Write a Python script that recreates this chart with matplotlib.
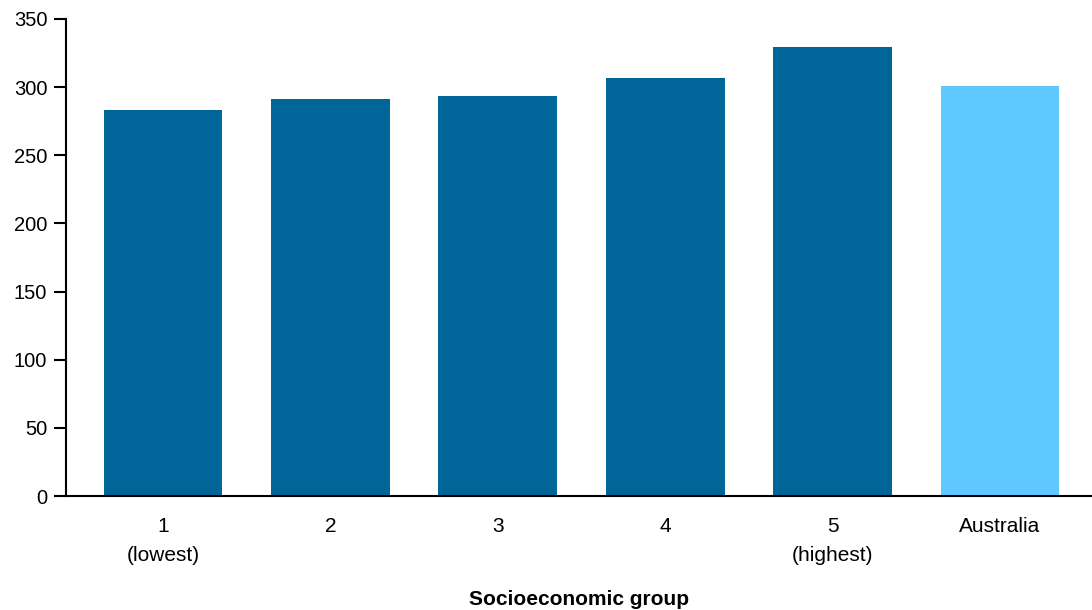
import numpy as np
import matplotlib.pyplot as plt

plt.rcParams['font.family'] = ['Liberation Sans', 'DejaVu Sans']

groups = ['1\n(lowest)', '2', '3', '4', '5\n(highest)', 'Australia']
values = [283.0, 291.6, 293.3, 307.0, 329.2, 300.6]
colours = ['#006699', '#006699', '#006699', '#006699', '#006699', '#5FC9FF']

fig = plt.figure(figsize=(10.92, 6.10), dpi=100)
ax = fig.add_axes([66 / 1092, (610 - 496) / 610, 1 - 66 / 1092, (496 - 19) / 610])

x = np.arange(len(groups))
ax.bar(x, values, width=0.71, color=colours)

ax.set_xlim(-0.58, 5.55)
ax.set_ylim(0, 350)
ax.set_yticks(np.arange(0, 351, 50))
ax.set_xticks(x)
ax.set_xticklabels(groups, linespacing=1.7)
ax.tick_params(axis='x', length=0, pad=15, labelsize=15)
ax.tick_params(axis='y', length=8.5, width=1.5, labelsize=14.5, pad=5)

for side in ['top', 'right']:
    ax.spines[side].set_visible(False)
for side in ['left', 'bottom']:
    ax.spines[side].set_linewidth(1.5)

ax.set_xlabel('Socioeconomic group', fontsize=15, fontweight='bold', labelpad=18)

fig.savefig('out.png', dpi=100)
